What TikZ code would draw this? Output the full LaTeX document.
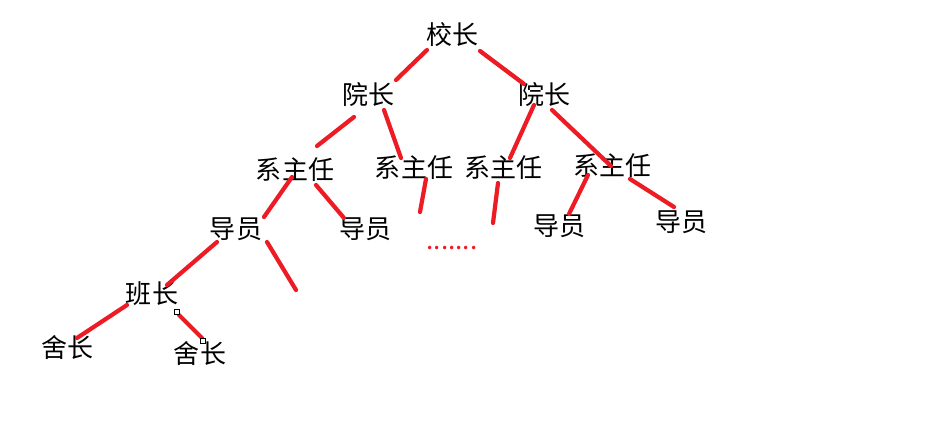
\documentclass[tikz,border=0pt]{standalone}
\usepackage{fontspec}
\newfontfamily\cjk{Noto Sans CJK SC}
\usetikzlibrary{calc}
\definecolor{linkred}{RGB}{237,28,36}
\tikzset{
	rank/.style={font=\cjk\fontsize{14.8}{16}\selectfont, inner sep=0pt, text=black},
	link/.style={linkred, line width=2.4pt, line cap=round},
	handle/.style={draw=black, fill=white, line width=0.6pt, minimum size=0.11cm, inner sep=0pt}
}
\begin{document}
\begin{tikzpicture}[x=0.02cm, y=-0.02cm]
			\useasboundingbox (0,0) rectangle (930,439);
			% ranks
			\node[rank] (xz) at (452,35) {校长};
			\node[rank] (yzL) at (368,95) {院长};
			\node[rank] (yzR) at (544,95) {院长};
			\node[rank] (xzr1) at (295,170) {系主任};
			\node[rank] (xzr2) at (414,168) {系主任};
			\node[rank] (xzr3) at (503,168) {系主任};
			\node[rank] (xzr4) at (612,166) {系主任};
			\node[rank] (dy1) at (236,229) {导员};
			\node[rank] (dy2) at (365,229) {导员};
			\node[rank] (dy3) at (559,226) {导员};
			\node[rank] (dy4) at (681,222) {导员};
			\node[rank] (bz) at (152,294) {班长};
			\node[rank] (sz1) at (68,348) {舍长};
			\node[rank] (sz2) at (200,354) {舍长};
			\node[rank, text=linkred, anchor=base] (more) at (452,249) {.......};
			% loose ends
			\coordinate (end2) at (420,212);
			\coordinate (end3) at (493,223);
			\coordinate (end1) at (296,290);
			% links
			\draw [link] ($(xz)+(-25,15)$) -- ($(yzL)+(28,-15)$);
			\draw [link] ($(xz)+(28,16)$) -- ($(yzR)+(-20,-11)$);
			\draw [link] ($(yzL)+(-14,22)$) -- ($(xzr1)+(22,-24)$);
			\draw [link] ($(yzL)+(16,15)$) -- ($(xzr2)+(-13,-10)$);
			\draw [link] ($(yzR)+(-10,10)$) -- ($(xzr3)+(7,-10)$);
			\draw [link] ($(yzR)+(8,15)$) -- ($(xzr4)+(-1,0)$);
			\draw [link] ($(xzr1)+(-3,7)$) -- ($(dy1)+(28,-12)$);
			\draw [link] ($(xzr1)+(21,15)$) -- ($(dy2)+(-21,-11)$);
			\draw [link] ($(xzr2)+(12,11)$) -- (end2);
			\draw [link] ($(xzr3)+(-5,15)$) -- (end3);
			\draw [link] ($(xzr4)+(-24,9)$) -- ($(dy3)+(10,-12)$);
			\draw [link] ($(xzr4)+(18,13)$) -- ($(dy4)+(-7,-15)$);
			\draw [link] ($(dy1)+(-19,13)$) -- ($(bz)+(15,-9)$);
			\draw [link] ($(dy1)+(31,13)$) -- (end1);
			\draw [link] ($(bz)+(-25,11)$) -- ($(sz1)+(9,-10)$);
			\draw [link] ($(bz)+(27,21)$) -- ($(sz2)+(2,-16)$);
			% handles
			\node[handle] (h1) at ($(bz)+(25,18)$) {};
			\node[handle] (h2) at ($(sz2)+(3,-13)$) {};
		\end{tikzpicture}
\end{document}
